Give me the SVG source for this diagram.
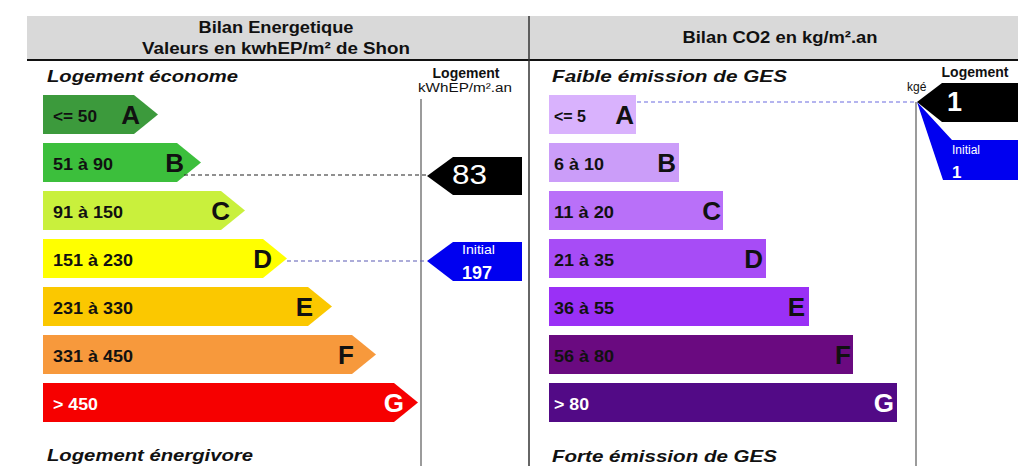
<svg xmlns="http://www.w3.org/2000/svg" width="1018" height="466" viewBox="0 0 1018 466">
<style>
text{font-family:"Liberation Sans",Arial,sans-serif}
.hdr{font-size:16px;font-weight:bold;fill:#111;text-anchor:middle}
.ital{font-size:17px;font-weight:bold;font-style:italic;fill:#111}
.rng{font-size:17px;font-weight:bold;fill:#111}
.rngw{font-size:17px;font-weight:bold;fill:#fff}
.let{font-size:26px;font-weight:bold;fill:#111;text-anchor:end}
.letw{font-size:26px;font-weight:bold;fill:#fff;text-anchor:end}
.lg{font-size:14px;font-weight:bold;fill:#111;text-anchor:middle}
.unit{font-size:12px;fill:#111}
.vline{stroke:#7a7a7a;stroke-width:1.5;fill:none}
.dash{stroke-width:1.2;stroke-dasharray:4 3;fill:none}
.wt{fill:#fff}
</style>
<rect width="1018" height="466" fill="#fff"/>
<g id="header">
<rect x="27" y="16" width="991" height="44" fill="#d9d9d9"/>
<line x1="27" y1="60" x2="1018" y2="60" stroke="#111" stroke-width="2"/>
<line x1="529" y1="16" x2="529" y2="466" stroke="#333" stroke-width="1.5"/>
<text class="hdr" x="276" y="33" textLength="155" lengthAdjust="spacingAndGlyphs">Bilan Energetique</text>
<text class="hdr" x="276" y="54" textLength="268" lengthAdjust="spacingAndGlyphs">Valeurs en kwhEP/m² de Shon</text>
<text class="hdr" x="780" y="43" textLength="195" lengthAdjust="spacingAndGlyphs">Bilan CO2 en kg/m².an</text>
</g>
<g id="energy-labels">
<text class="ital" x="47" y="82" textLength="191" lengthAdjust="spacingAndGlyphs">Logement économe</text>
<text class="ital" x="47" y="461" textLength="206" lengthAdjust="spacingAndGlyphs">Logement énergivore</text>
<text class="lg" x="466" y="78">Logement</text>
<text class="unit" x="418" y="92" textLength="94" lengthAdjust="spacingAndGlyphs">kWhEP/m².an</text>
<line class="vline" x1="421" y1="99" x2="421" y2="466"/>
</g>
<g id="ges-labels">
<text class="ital" x="552" y="82" textLength="235" lengthAdjust="spacingAndGlyphs">Faible émission de GES</text>
<text class="ital" x="552" y="462" textLength="225" lengthAdjust="spacingAndGlyphs">Forte émission de GES</text>
<text class="lg" x="975" y="77">Logement</text>
<text class="unit" x="907" y="91">kgé</text>
<line class="vline" x1="916" y1="102" x2="916" y2="466"/>
</g>
<g id="energy-A"><polygon points="43,95 134,95 158,114.5 134,134 43,134" fill="#3c9a3c"/><text class="rng" x="53" y="122" textLength="44" lengthAdjust="spacingAndGlyphs">&lt;= 50</text><text class="let" x="140" y="124">A</text></g>
<g id="energy-B"><polygon points="43,143 177,143 201,162.5 177,182 43,182" fill="#3cbf3c"/><text class="rng" x="53" y="170" textLength="60" lengthAdjust="spacingAndGlyphs">51 à 90</text><text class="let" x="184" y="172">B</text></g>
<g id="energy-C"><polygon points="43,191 221,191 245,210.5 221,230 43,230" fill="#c9f03c"/><text class="rng" x="53" y="218" textLength="70" lengthAdjust="spacingAndGlyphs">91 à 150</text><text class="let" x="230" y="220">C</text></g>
<g id="energy-D"><polygon points="43,239 263,239 287,258.5 263,278 43,278" fill="#ffff00"/><text class="rng" x="53" y="266" textLength="80" lengthAdjust="spacingAndGlyphs">151 à 230</text><text class="let" x="272" y="268">D</text></g>
<g id="energy-E"><polygon points="43,287 308,287 332,306.5 308,326 43,326" fill="#fbc800"/><text class="rng" x="53" y="314" textLength="80" lengthAdjust="spacingAndGlyphs">231 à 330</text><text class="let" x="313" y="316">E</text></g>
<g id="energy-F"><polygon points="43,335 352,335 376,354.5 352,374 43,374" fill="#f7993c"/><text class="rng" x="53" y="362" textLength="80" lengthAdjust="spacingAndGlyphs">331 à 450</text><text class="let" x="354" y="364">F</text></g>
<g id="energy-G"><polygon points="43,383 394,383 418,402.5 394,422 43,422" fill="#f60000"/><text class="rngw" x="53" y="410" textLength="45" lengthAdjust="spacingAndGlyphs">&gt; 450</text><text class="letw" x="404" y="412">G</text></g>
<g id="ges-A"><rect x="549" y="95" width="87" height="39" fill="#d9b2fd"/><text class="rng" x="554" y="122" textLength="32" lengthAdjust="spacingAndGlyphs">&lt;= 5</text><text class="let" x="634" y="124">A</text></g>
<g id="ges-B"><rect x="549" y="143" width="130" height="39" fill="#cb9df9"/><text class="rng" x="554" y="170" textLength="50" lengthAdjust="spacingAndGlyphs">6 à 10</text><text class="let" x="676" y="172">B</text></g>
<g id="ges-C"><rect x="549" y="191" width="174" height="39" fill="#b970f9"/><text class="rng" x="554" y="218" textLength="60" lengthAdjust="spacingAndGlyphs">11 à 20</text><text class="let" x="721" y="220">C</text></g>
<g id="ges-D"><rect x="549" y="239" width="217" height="39" fill="#a74cf6"/><text class="rng" x="554" y="266" textLength="60" lengthAdjust="spacingAndGlyphs">21 à 35</text><text class="let" x="763" y="268">D</text></g>
<g id="ges-E"><rect x="549" y="287" width="260" height="39" fill="#9a30f6"/><text class="rng" x="554" y="314" textLength="60" lengthAdjust="spacingAndGlyphs">36 à 55</text><text class="let" x="805" y="316">E</text></g>
<g id="ges-F"><rect x="549" y="335" width="304" height="39" fill="#6a0a80"/><text class="rng" x="554" y="362" textLength="60" lengthAdjust="spacingAndGlyphs" fill="#2a0a30">56 à 80</text><text class="let" x="851" y="364">F</text></g>
<g id="ges-G"><rect x="549" y="383" width="348" height="39" fill="#520a86"/><text class="rngw" x="554" y="410" textLength="35" lengthAdjust="spacingAndGlyphs">&gt; 80</text><text class="letw" x="894" y="412">G</text></g>
<g id="connectors">
<line class="dash" x1="184" y1="175" x2="427" y2="175" stroke="#222"/>
<line class="dash" x1="287" y1="261" x2="427" y2="261" stroke="#5a5ab4"/>
<line class="dash" x1="637" y1="102" x2="917" y2="102" stroke="#6a6ae0"/>
</g>
<g id="energy-current"><polygon points="427,176 453,157 522,157 522,195 453,195" fill="#000"/><text class="wt" x="452" y="184" font-size="28" textLength="35" lengthAdjust="spacingAndGlyphs">83</text></g>
<g id="energy-initial"><polygon points="427,261 453,242 522,242 522,281 453,281" fill="#0000f0"/><text class="wt" x="462" y="254" font-size="12" textLength="33" lengthAdjust="spacingAndGlyphs">Initial</text><text class="wt" x="462" y="279" font-size="19" font-weight="bold" textLength="30" lengthAdjust="spacingAndGlyphs">197</text></g>
<g id="ges-initial"><polygon points="917,102 952,140 1018,140 1018,180 943,180" fill="#0000f0"/><text class="wt" x="952" y="154" font-size="12">Initial</text><text class="wt" x="952" y="178" font-size="17" font-weight="bold">1</text></g>
<g id="ges-current"><polygon points="917,102 942,83 1018,83 1018,122 942,122" fill="#000"/><text class="wt" x="947" y="111" font-size="27" font-weight="bold">1</text></g>
</svg>
